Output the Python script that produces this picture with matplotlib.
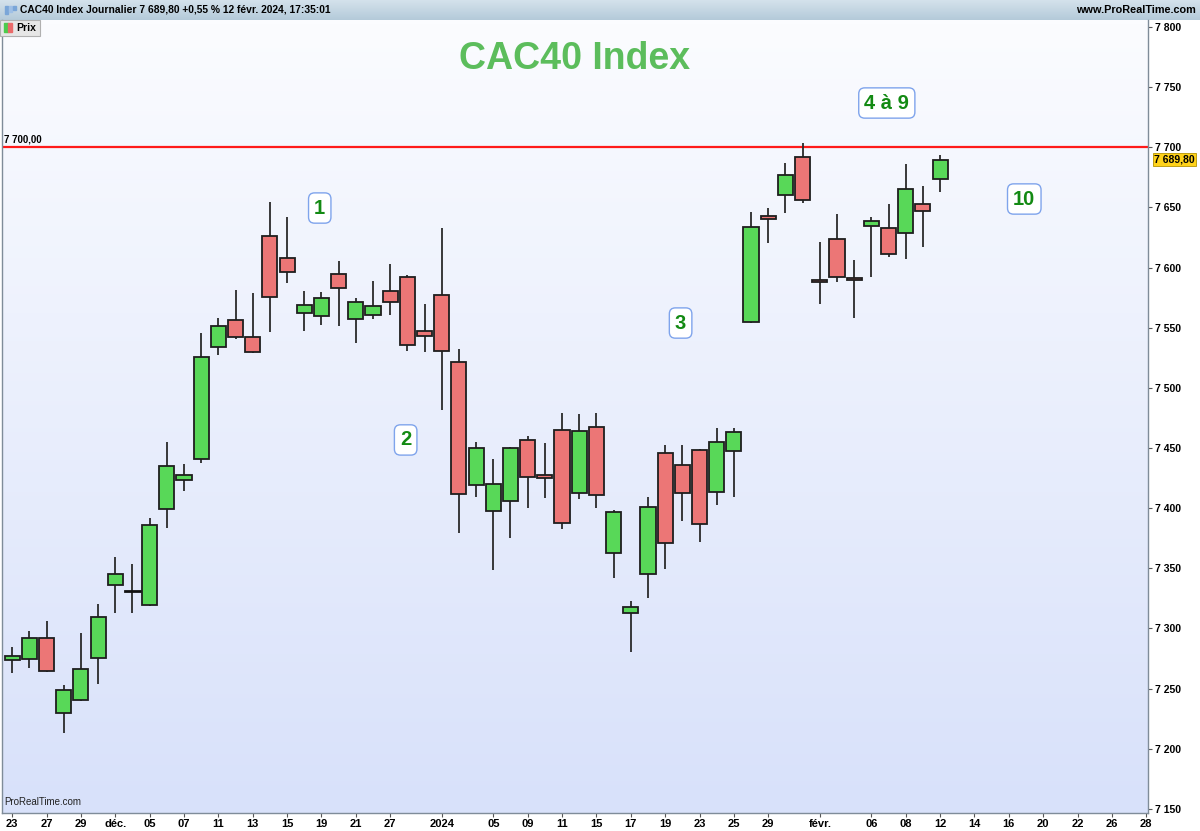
import matplotlib
matplotlib.use("Agg")
import matplotlib.pyplot as plt
import numpy as np
from matplotlib.patches import Rectangle
import matplotlib.transforms as mtransforms

plt.rcParams["font.family"] = ["Liberation Sans", "DejaVu Sans"]

# daily candles, 23 nov. 2023 -> 12 févr. 2024 (index = trading day)
opens = [7273.8, 7274.4, 7291.8, 7229.5, 7240.3, 7275.7, 7335.9, 7331.4, 7319.3, 7399.3,
         7423.7, 7440.6, 7533.7, 7556.4, 7542.0, 7626.5, 7608.2, 7562.5, 7560.0, 7594.9,
         7557.0, 7560.3, 7580.3, 7592.0, 7547.3, 7577.2, 7521.8, 7419.3, 7397.9, 7405.7,
         7456.7, 7427.6, 7465.0, 7412.3, 7467.7, 7362.9, 7312.6, 7345.5, 7446.1, 7435.9,
         7448.4, 7413.7, 7447.5, 7554.8, 7642.6, 7660.1, 7691.7, 7589.4, 7624.0, 7591.3,
         7634.3, 7632.7, 7628.8, 7652.6, 7673.9]
highs = [7284.6, 7298.1, 7306.5, 7252.8, 7296.0, 7320.3, 7359.4, 7353.6, 7391.6, 7454.8,
         7436.5, 7545.4, 7558.1, 7581.0, 7579.1, 7654.3, 7642.3, 7580.5, 7580.0, 7605.5,
         7574.5, 7589.1, 7603.0, 7593.8, 7569.7, 7632.9, 7532.1, 7454.8, 7441.0, 7450.6,
         7460.0, 7454.0, 7479.4, 7478.3, 7479.4, 7398.7, 7322.8, 7409.5, 7452.5, 7452.5,
         7449.0, 7466.4, 7466.4, 7646.0, 7649.3, 7686.7, 7703.3, 7621.0, 7644.5, 7606.0,
         7642.3, 7652.9, 7685.9, 7668.1, 7693.6]
lows = [7263.0, 7266.9, 7264.0, 7212.9, 7240.0, 7253.8, 7312.6, 7312.6, 7318.7, 7383.8,
        7414.3, 7437.8, 7527.3, 7541.0, 7528.7, 7546.7, 7586.9, 7547.5, 7552.3, 7551.7,
        7537.1, 7557.0, 7560.6, 7530.9, 7530.1, 7481.6, 7379.1, 7409.0, 7348.6, 7375.5,
        7399.9, 7408.2, 7382.4, 7407.4, 7399.9, 7342.2, 7280.2, 7325.1, 7349.7, 7389.6,
        7372.1, 7402.6, 7409.5, 7554.0, 7620.2, 7645.1, 7653.4, 7569.7, 7588.0, 7558.3,
        7591.9, 7609.0, 7606.9, 7616.9, 7663.1]
closes = [7277.1, 7291.8, 7264.4, 7248.6, 7266.6, 7309.5, 7345.5, 7331.4, 7386.0, 7435.3,
          7427.8, 7525.9, 7551.4, 7542.5, 7530.1, 7575.8, 7596.6, 7568.9, 7574.5, 7583.3,
          7571.1, 7568.1, 7571.1, 7535.4, 7542.9, 7530.7, 7411.5, 7449.8, 7419.8, 7449.8,
          7426.2, 7425.3, 7387.4, 7464.4, 7410.7, 7397.1, 7317.6, 7400.7, 7370.8, 7412.4,
          7386.8, 7455.3, 7463.6, 7634.0, 7640.1, 7677.0, 7656.4, 7588.0, 7592.2, 7589.9,
          7638.7, 7611.0, 7665.6, 7647.3, 7689.8]

tick_idx = [0, 2, 4, 6, 8, 10, 12, 14, 16, 18, 20, 22, 25, 28, 30, 32, 34, 36, 38, 40,
            42, 44, 47, 50, 52, 54, 56, 58, 60, 62, 64, 66]
tick_lbl = ["23", "27", "29", "déc.", "05", "07", "11", "13", "15", "19", "21", "27",
            "2024", "05", "09", "11", "15", "17", "19", "23", "25", "29", "févr.",
            "06", "08", "12", "14", "16", "20", "22", "26", "28"]

level = 7700.0
last = 7689.80
notes = ["1", "2", "3", "4 à 9", "10"]
note_x = [17.9, 22.9, 38.9, 50.9, 58.9]
note_y = [7649.5, 7456.7, 7553.9, 7736.8, 7657.0]

W, H = 1200, 831
fig = plt.figure(figsize=(12, 8.31), dpi=100)
fig.patch.set_facecolor("white")

# header bar
hx = fig.add_axes([0, 1 - 20 / H, 1, 20 / H])
grad = np.linspace(0, 1, 50).reshape(-1, 1)
hx.imshow(grad, aspect="auto", cmap=matplotlib.colors.LinearSegmentedColormap.from_list(
    "h", ["#d4e2ec", "#b4cad9"]), extent=[0, 1, 0, 1])
hx.set_xlim(0, 1)
hx.set_ylim(0, 1)
hx.axis("off")
fig.text(20 / W, 1 - 10 / H, "CAC40 Index Journalier 7 689,80 +0,55 % 12 févr. 2024, 17:35:01",
         fontsize=7.4, fontweight="bold", va="center", ha="left")
fig.text(1196 / W, 1 - 10 / H, "www.ProRealTime.com", fontsize=7.8, fontweight="bold",
         va="center", ha="right")
# tiny candle icon
for k, (bx, c) in enumerate([(5, "#7aa6d8"), (9, "#9fc0e6"), (13, "#7aa6d8")]):
    fig.patches.append(Rectangle((bx / W, 1 - (14 - 2 * k) / H), 2.5 / W, (8 - 2 * k) / H,
                                 transform=fig.transFigure, color=c))

# main axes
ax = fig.add_axes([1.5 / W, 1 - 813 / H, 1146.5 / W, 793 / H])
x0, x1 = -0.62, 66.1
y0, y1 = 7146.6, 7805.8
ax.set_xlim(x0, x1)
ax.set_ylim(y0, y1)

bg = np.linspace(1, 0, 200).reshape(-1, 1)
ax.imshow(bg, aspect="auto", extent=[x0, x1, y0, y1], zorder=0,
          cmap=matplotlib.colors.LinearSegmentedColormap.from_list("bg", ["#d8e1fa", "#fbfcff"]))

ax.axhline(level, color="#ff1a1a", lw=1.6, zorder=1)
ax.text(x0 + 0.15, level + 2.5, "7 700,00", fontsize=7, fontweight="bold", va="bottom", ha="left")

bw = 0.88
for i in range(len(opens)):
    o, h, l, c = opens[i], highs[i], lows[i], closes[i]
    ax.plot([i, i], [l, h], color="#2a2a2a", lw=1.3, zorder=2, solid_capstyle="butt")
    if o == c:
        ax.plot([i - bw / 2, i + bw / 2], [o, o], color="#111111", lw=2, zorder=3)
        continue
    col = "#58d858" if c > o else "#ec7676"
    ax.add_patch(Rectangle((i - bw / 2, min(o, c)), bw, abs(c - o), facecolor=col,
                           edgecolor="#1e1e1e", lw=1.3, zorder=3))

for t, xx, yy in zip(notes, note_x, note_y):
    ax.text(xx, yy, t, fontsize=14.5, fontweight="bold", color="#138a13", ha="center",
            va="center", zorder=5,
            bbox=dict(boxstyle="round,pad=0.28,rounding_size=0.3", fc="white",
                      ec="#7fa4ec", lw=1))

fig.text(575 / W, 1 - 59 / H, "CAC40 Index", fontsize=27, fontweight="bold", color="#5cbd5c",
         ha="center", va="center")

# axes styling
ax.set_xticks(tick_idx)
ax.set_xticklabels(tick_lbl, fontsize=8, fontweight="bold")
ax.yaxis.tick_right()
yt = list(range(7150, 7801, 50))
ax.set_yticks(yt)
ax.set_yticklabels([f"{v // 1000} {v % 1000:03d}" for v in yt], fontsize=7.5, fontweight="bold")
ax.tick_params(axis="x", direction="out", length=3, width=0.8, color="#555555", pad=1.5)
ax.tick_params(axis="y", direction="out", length=3, width=0.8, color="#555555", pad=2)
for s in ["left", "right", "bottom"]:
    ax.spines[s].set_color("#7f8c99")
    ax.spines[s].set_linewidth(1)
ax.spines["top"].set_visible(False)

ax.text(0.002, 0.008, "ProRealTime.com", transform=ax.transAxes, fontsize=7, ha="left",
        va="bottom", color="#222222")

# last price tag
tr = mtransforms.blended_transform_factory(ax.transAxes, ax.transData)
ax.text(1.0055, last, "7 689,80", transform=tr, fontsize=7.5, fontweight="bold", ha="left",
        va="center", clip_on=False, zorder=6,
        bbox=dict(boxstyle="square,pad=0.15", fc="#ffd21a", ec="#b59400", lw=0.6))

# "Prix" legend chip
fig.patches.append(Rectangle((0, 1 - 36 / H), 40 / W, 16 / H, transform=fig.transFigure,
                             facecolor="#e6e6e6", edgecolor="#b0b0b0", lw=0.8, zorder=10))
fig.patches.append(Rectangle((4 / W, 1 - 32 / H), 4 / W, 9 / H, transform=fig.transFigure,
                             color="#4ccc4c", zorder=11))
fig.patches.append(Rectangle((8 / W, 1 - 32 / H), 4 / W, 9 / H, transform=fig.transFigure,
                             color="#ea6a6a", zorder=11))
fig.text(16 / W, 1 - 28 / H, "Prix", fontsize=7.5, fontweight="bold", va="center", ha="left",
         zorder=12)

fig.savefig("out.png", dpi=100)
